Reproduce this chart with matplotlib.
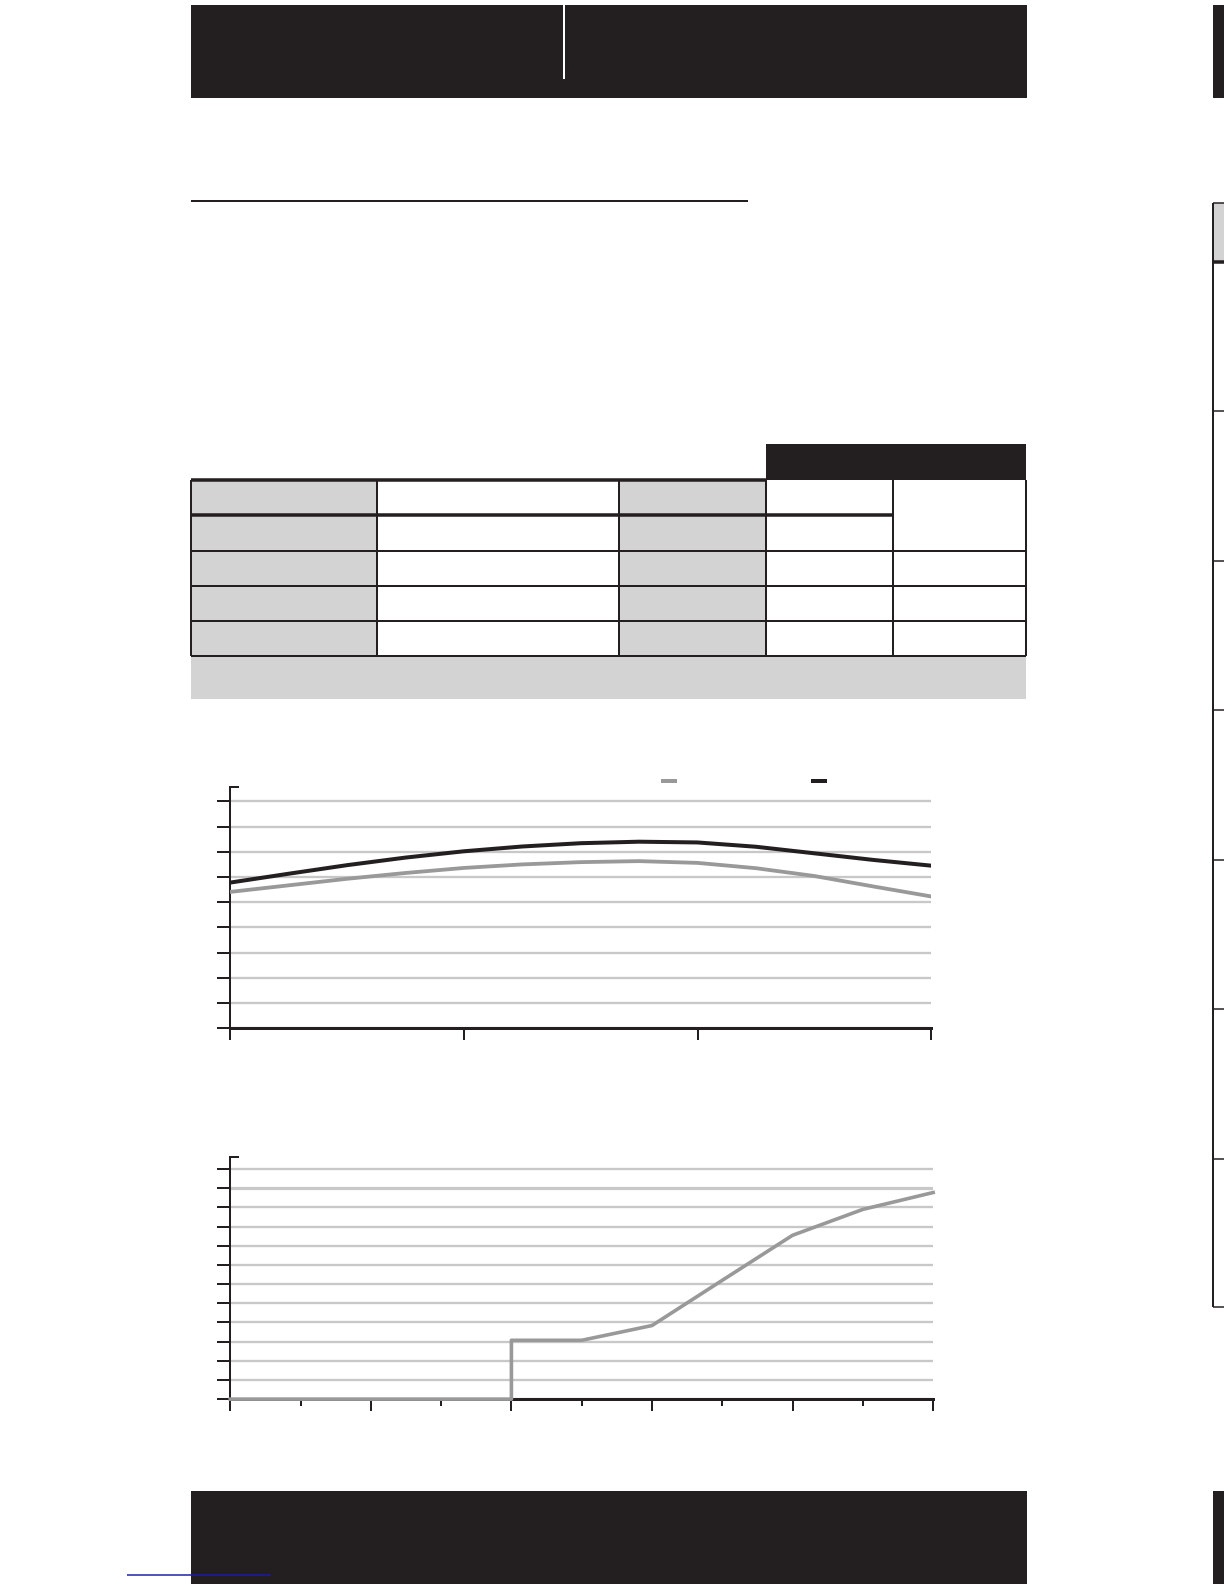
import matplotlib
matplotlib.use("Agg")
import matplotlib.pyplot as plt
from matplotlib.patches import Rectangle

# chart 1: two smooth curves over x = 0..3
curve_x = [0, 0.25, 0.5, 0.75, 1.0, 1.25, 1.5, 1.75, 2.0, 2.25, 2.5, 2.75, 3.0]
dark_y = [5.78, 6.13, 6.47, 6.77, 7.02, 7.21, 7.34, 7.40, 7.37, 7.20, 6.94, 6.68, 6.45]
grey_y = [5.41, 5.67, 5.93, 6.16, 6.36, 6.50, 6.59, 6.63, 6.56, 6.35, 6.04, 5.63, 5.23]

# chart 2: stepped growth over x = 0..10
step_x = [0, 1, 2, 3, 4, 4, 5, 6, 7, 8, 9, 10]
step_y = [0, 0, 0, 0, 0, 3.07, 3.07, 3.84, 6.2, 8.55, 9.9, 10.78]

DARK = "#231f20"
GREY = "#999999"
CELL = "#d3d3d3"
GRID = "#c8c8c8"
PX = 0.72  # one pixel in points at 100 dpi

# layout measured on a 1212 x 1568 grid
W, H = 1212, 1568

fig = plt.figure(figsize=(12.24, 15.84), dpi=100)

# page layer in layout units
page = fig.add_axes([0, 0, 1, 1])
page.set_xlim(0, W)
page.set_ylim(H, 0)
page.axis("off")

def box(x0, y0, x1, y1, color):
    page.add_patch(Rectangle((x0, y0), x1 - x0, y1 - y0, color=color, lw=0))

def hline(y, x0, x1, w=2, color=DARK):
    page.plot([x0, x1], [y, y], color=color, lw=w * PX, solid_capstyle="butt")

def vline(x, y0, y1, w=2, color=DARK):
    page.plot([x, x], [y0, y1], color=color, lw=w * PX, solid_capstyle="butt")

# header and footer bars
box(189, 5, 1017, 97, DARK)
vline(558, 5, 78, w=2, color="white")
box(1201, 5, 1212, 97, DARK)
box(189, 1476, 1017, H, DARK)
box(1201, 1476, 1212, H, DARK)
hline(1559, 126, 268, w=1.5, color="#1c1ca8")

# section underline
hline(199, 189, 741, w=2)

# table
cols = [189, 373, 613, 758, 884, 1016]
rows = [475, 510, 545, 580, 615, 649]
box(758, 440, 1016, 475, DARK)
for r0, r1 in zip(rows[:-1], rows[1:]):
    box(cols[0], r0, cols[1], r1, CELL)
    box(cols[2], r0, cols[3], r1, CELL)
box(189, 649, 1016, 692, CELL)
hline(rows[0], cols[0], cols[3], w=3.5)
hline(rows[1], cols[0], cols[4], w=3.5)
for r in rows[2:]:
    hline(r, cols[0], cols[5], w=2)
for c in cols:
    vline(c, rows[0], rows[-1], w=2)

# partial table at the right edge
box(1201, 201, 1212, 259, CELL)
hline(201, 1201, 1212, w=1.5)
hline(259, 1201, 1212, w=3.5)
for r in [407, 555, 703, 851, 999, 1147, 1294]:
    hline(r, 1201, 1212, w=1.5)
vline(1201, 201, 1294, w=2)


def style_axes(ax, top):
    ax.set_facecolor("none")
    for s in ("top", "right"):
        ax.spines[s].set_visible(False)
    ax.spines["left"].set_color(DARK)
    ax.spines["left"].set_linewidth(2 * PX)
    ax.spines["bottom"].set_color(DARK)
    ax.spines["bottom"].set_linewidth(3 * PX)
    ax.spines["bottom"].set_zorder(2.5)
    ax.set_ylim(0, top)
    ax.tick_params(axis="y", direction="out", length=13 * PX, width=2 * PX,
                   color=DARK, labelleft=False)
    ax.tick_params(axis="x", which="both", direction="out", width=2 * PX,
                   color=DARK, labelbottom=False)
    ax.grid(axis="y", color=GRID, lw=2.3 * PX)
    ax.set_axisbelow(True)
    ax.plot([0, 0.013], [1, 1], transform=ax.transAxes, clip_on=False,
            color=DARK, lw=2 * PX, solid_capstyle="butt")


# chart 1
ax1 = fig.add_axes([228 / W, 1 - 1018 / H, 694 / W, 239 / H])
style_axes(ax1, 9.57)
ax1.set_xlim(0, 3)
ax1.set_xticks([0, 1, 2, 3])
ax1.set_yticks(range(0, 10))
ax1.tick_params(axis="x", length=12 * PX)
ax1.plot(curve_x, grey_y, color=GREY, lw=3.8 * PX, zorder=3,
         solid_joinstyle="round")
ax1.plot(curve_x, dark_y, color=DARK, lw=4 * PX, zorder=3,
         solid_joinstyle="round")
# legend keys (labels not rendered in the reference)
ax1.plot([0.615, 0.637], [1.025, 1.025], transform=ax1.transAxes, clip_on=False,
         color=GREY, lw=4 * PX, solid_capstyle="butt")
ax1.plot([0.829, 0.851], [1.025, 1.025], transform=ax1.transAxes, clip_on=False,
         color=DARK, lw=4 * PX, solid_capstyle="butt")

# chart 2
ax2 = fig.add_axes([228 / W, 1 - 1385 / H, 696 / W, 240 / H])
style_axes(ax2, 12.65)
ax2.set_xlim(0, 10)
ax2.set_xticks(range(0, 11, 2))
ax2.set_xticks(range(1, 10, 2), minor=True)
ax2.tick_params(axis="x", which="major", length=12 * PX)
ax2.tick_params(axis="x", which="minor", length=7 * PX)
ax2.set_yticks(range(0, 13))
ax2.get_ygridlines()[11].set_linewidth(3.2 * PX)
ax2.plot(step_x, step_y, color=GREY, lw=3.6 * PX, zorder=3, clip_on=False)

fig.savefig("out.png", dpi=100)
